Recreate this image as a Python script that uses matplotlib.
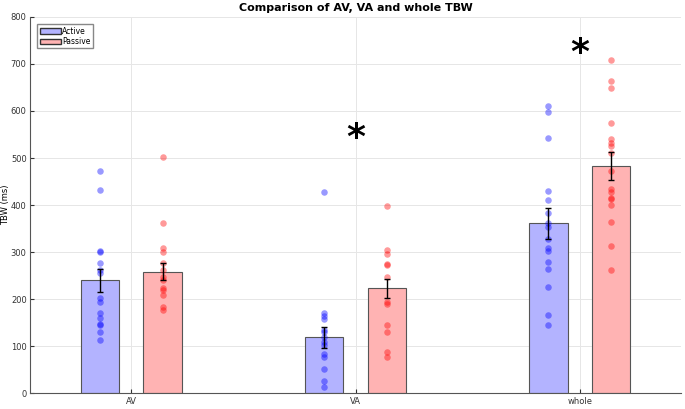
import numpy as np
import matplotlib
matplotlib.use("Agg")
import matplotlib.pyplot as plt
from matplotlib.patches import Patch

categories = ["AV", "VA", "whole"]

active_mean = [240, 119, 361]
active_sem = [25, 23, 32]
passive_mean = [259, 223, 483]
passive_sem = [19, 21, 30]

active_pts = [
    [473, 432, 302, 300, 278, 262, 256, 202, 195, 171, 161, 148, 145, 130, 114],
    [427, 171, 164, 158, 135, 131, 120, 110, 103, 84, 78, 53, 27, 14],
    [610, 598, 543, 430, 411, 384, 362, 354, 329, 308, 303, 279, 264, 227, 166, 145],
]
passive_pts = [
    [503, 361, 309, 301, 278, 262, 248, 242, 225, 220, 209, 183, 177],
    [399, 304, 296, 276, 272, 248, 195, 190, 145, 131, 87, 78],
    [709, 664, 648, 575, 541, 532, 525, 510, 473, 435, 428, 416, 412, 401, 364, 314, 262],
]

# significance marks: (category index, y value)
stars = [(1, 542), (2, 722)]

fig = plt.figure(figsize=(6.85, 4.09), dpi=100)
ax = fig.add_axes([0.044, 0.038, 0.95, 0.921])

x = np.arange(1, len(categories) + 1)
off = 0.14
w = 0.17

ax.bar(x - off, active_mean, w, color="#b3b3ff", edgecolor="#555555", linewidth=0.8, zorder=2)
ax.bar(x + off, passive_mean, w, color="#ffb3b3", edgecolor="#555555", linewidth=0.8, zorder=2)

for i in range(len(categories)):
    ax.scatter(np.full(len(active_pts[i]), x[i] - off), active_pts[i], s=22,
               color="blue", alpha=0.4, linewidths=0, zorder=3)
    ax.scatter(np.full(len(passive_pts[i]), x[i] + off), passive_pts[i], s=22,
               color="red", alpha=0.4, linewidths=0, zorder=3)

ax.errorbar(x - off, active_mean, yerr=active_sem, fmt="none", ecolor="black",
            elinewidth=1, capsize=2.5, capthick=1, zorder=4)
ax.errorbar(x + off, passive_mean, yerr=passive_sem, fmt="none", ecolor="black",
            elinewidth=1, capsize=2.5, capthick=1, zorder=4)

for ci, yv in stars:
    ax.text(x[ci], yv, "*", fontsize=26, fontweight="bold", ha="center", va="center", color="black")

ax.set_xlim(0.55, 3.45)
ax.set_ylim(0, 800)
ax.set_xticks(x)
ax.set_xticklabels(categories)
ax.set_yticks(np.arange(0, 801, 100))
ax.tick_params(direction="in", labelsize=6, length=3, pad=2.5, colors="#333333")
ax.grid(True, color="#e6e6e6", linewidth=0.7, zorder=0)
ax.set_axisbelow(True)
for s in ["top", "right"]:
    ax.spines[s].set_visible(False)
for s in ["left", "bottom"]:
    ax.spines[s].set_color("#555555")
    ax.spines[s].set_linewidth(0.8)

ax.set_ylabel("TBW (ms)", fontsize=6)
ax.yaxis.set_label_coords(-0.031, 0.5)
ax.set_title("Comparison of AV, VA and whole TBW", fontsize=8, fontweight="bold", pad=4)

handles = [Patch(facecolor="#b3b3ff", edgecolor="#333333", label="Active"),
           Patch(facecolor="#ffb3b3", edgecolor="#333333", label="Passive")]
ax.legend(handles=handles, loc="upper left", fontsize=5.5, handlelength=2.8,
          handletextpad=0.2, borderpad=0.3, labelspacing=0.2, fancybox=False,
          edgecolor="#888888", framealpha=1, bbox_to_anchor=(0.005, 0.99))

fig.savefig("out.png", dpi=100)
